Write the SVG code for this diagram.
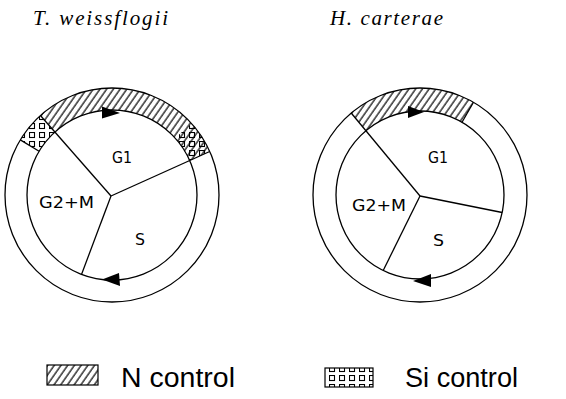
<svg xmlns="http://www.w3.org/2000/svg" width="566" height="399" viewBox="0 0 566 399">
<style>
.ln{fill:none;stroke:#000;stroke-width:1.3}
.ar{fill:#000;stroke:none}
.ph{font-family:"DejaVu Sans","Liberation Sans",sans-serif;font-size:16px;fill:#000}
.tt{font-family:"Liberation Serif","DejaVu Serif",serif;font-style:italic;font-size:21px;fill:#000}
.lg{font-family:"Liberation Sans","DejaVu Sans",sans-serif;font-size:27px;fill:#000}
.hat{fill:url(#hatch);stroke:none}
.sqf{fill:url(#sq);stroke:none}
</style>
<defs>
<pattern id="hatch" patternUnits="userSpaceOnUse" width="5.5" height="10" patternTransform="rotate(35)">
<rect width="5.5" height="10" fill="#fff"/>
<line x1="1" y1="0" x2="1" y2="10" stroke="#000" stroke-width="1.2"/>
</pattern>
<pattern id="sq" patternUnits="userSpaceOnUse" x="329" y="366" width="10" height="9">
<rect x="0.5" y="0.5" width="5" height="5" fill="none" stroke="#000" stroke-width="1.1"/>
</pattern>
</defs>

<g id="title-left"><text class="tt" x="33" y="25" textLength="135" lengthAdjust="spacing">T.  weissflogii</text></g>
<g id="title-right"><text class="tt" x="330" y="25" textLength="113" lengthAdjust="spacing">H.  carterae</text></g>

<g id="cycle-left">
<path class="hat" d="M40.4 115.5 A107 107 0 0 1 209.7 151.5 L189.6 160.4 A85 85 0 0 0 55.1 131.8 Z"/>
<path class="sqf" d="M20.3 139.9 A107 107 0 0 1 40.4 115.5 L55.1 131.8 A85 85 0 0 0 39.1 151.2 Z"/>
<path class="sqf" d="M191.5 123.4 A107 107 0 0 1 209.7 151.5 L189.6 160.4 A85 85 0 0 0 175.2 138.1 Z"/>
<circle class="ln" cx="112" cy="195" r="107"/>
<circle class="ln" cx="112" cy="195" r="85"/>
<line class="ln" x1="20.3" y1="139.9" x2="39.1" y2="151.2"/>
<line class="ln" x1="111" y1="196" x2="40.4" y2="115.5"/>
<line class="ln" x1="111" y1="196" x2="209.7" y2="151.5"/>
<line class="ln" x1="111" y1="196" x2="81.5" y2="274.4"/>
<text class="ph" x="112" y="163" textLength="20" lengthAdjust="spacingAndGlyphs">G1</text>
<text class="ph" x="39" y="208" textLength="55" lengthAdjust="spacingAndGlyphs">G2+M</text>
<text class="ph" x="135" y="245" textLength="10" lengthAdjust="spacingAndGlyphs">S</text>
</g>

<g id="cycle-right">
<path class="hat" d="M351.2 113 A107 107 0 0 1 473.5 102.3 L462 122.3 A84 84 0 0 0 366 130.7 Z"/>
<circle class="ln" cx="420" cy="195" r="107"/>
<circle class="ln" cx="420" cy="195" r="84"/>
<line class="ln" x1="473.5" y1="102.3" x2="462" y2="122.3"/>
<line class="ln" x1="420" y1="196" x2="351.2" y2="113"/>
<line class="ln" x1="420" y1="196" x2="502.2" y2="212.5"/>
<line class="ln" x1="420" y1="196" x2="383.2" y2="270.5"/>
<text class="ph" x="428" y="163" textLength="20" lengthAdjust="spacingAndGlyphs">G1</text>
<text class="ph" x="352" y="211" textLength="54" lengthAdjust="spacingAndGlyphs">G2+M</text>
<text class="ph" x="433" y="246" textLength="11" lengthAdjust="spacingAndGlyphs">S</text>
</g>

<g id="connectors">
<polygon class="ar" points="102,106.5 102,118.5 120,113"/>
<polygon class="ar" points="102,279.5 119,273 120,286"/>
<polygon class="ar" points="408,106 408,118 424,112"/>
<polygon class="ar" points="413,281 431,274 431,287"/>
</g>

<g id="legend-n">
<rect x="47" y="365" width="51" height="20" fill="url(#hatch)" stroke="#000" stroke-width="1.2"/>
<text class="lg" x="121" y="387" textLength="114" lengthAdjust="spacingAndGlyphs">N control</text>
</g>
<g id="legend-si">
<rect x="325" y="368" width="48" height="19" fill="#fff" stroke="none"/>
<rect x="325" y="368" width="48" height="19" fill="url(#sq)" stroke="#000" stroke-width="1.2"/>
<text class="lg" x="405" y="387" textLength="113" lengthAdjust="spacingAndGlyphs">Si control</text>
</g>
</svg>
